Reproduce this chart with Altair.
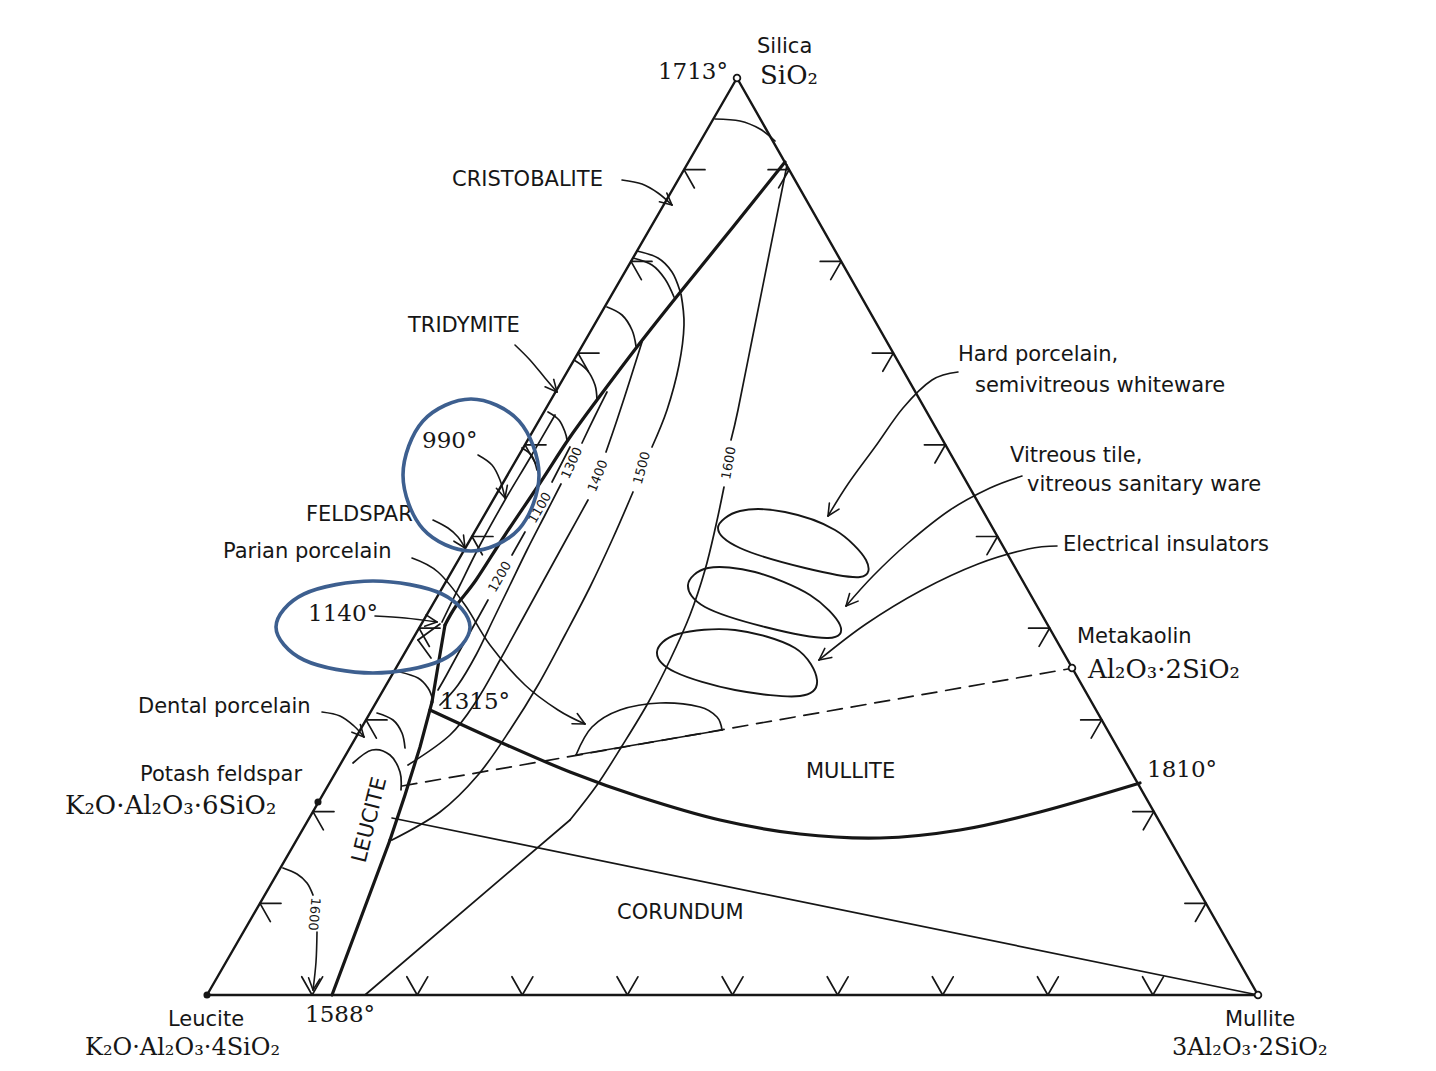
import math
import altair as alt
import pandas as pd

# ---------------- data: positions (page pixels) ----------------
SILICA = (737, 78)
LEUCITE = (207, 995)
MULLITE = (1258, 995)
POTASH_FELDSPAR = (318, 802)
METAKAOLIN = (1072, 668)

TRIANGLE = [SILICA, LEUCITE, MULLITE, SILICA]
TICK_FRACTIONS = [0.1, 0.2, 0.3, 0.4, 0.5, 0.6, 0.7, 0.8, 0.9]

# thick field boundaries
BOUNDARY_SILICA = [(785, 162), (733, 227), (682, 290), (640, 343), (597, 400), (568, 440),
                   (540, 483), (505, 535), (476, 580), (456, 606), (445, 625)]
BOUNDARY_FELDSPAR = [(445, 625), (439, 660), (432, 702)]
BOUNDARY_LEUCITE = [(432, 702), (420, 747), (405, 795), (390, 840)]
BOUNDARY_LEUCITE_LOW = [(390, 840), (332, 995)]
BOUNDARY_MULLITE = [(430, 710), (500, 742), (570, 772), (640, 797), (720, 820), (800, 834),
                    (880, 838), (960, 830), (1040, 812), (1140, 783)]

# thin isotherms / arcs
ARC_TOP = [(715, 119), (740, 121), (760, 129), (775, 141)]
ARC_B1 = [(637, 251), (658, 258), (672, 272), (680, 291)]
ARC_B2 = [(633, 258), (652, 265), (665, 279), (674, 297)]
ARC_C = [(607, 307), (622, 315), (632, 330), (636, 346)]
ARC_D = [(574, 360), (587, 370), (595, 385), (597, 400)]
ARC_E = [(548, 412), (559, 420), (565, 432), (567, 440)]
ARC_F = [(522, 448), (532, 456), (537, 470)]
ARC_G = [(400, 672), (418, 678), (428, 688), (433, 700)]
ARC_H = [(377, 713), (393, 720), (402, 733), (405, 748)]
DENTAL_ARC = [(353, 763), (372, 750), (390, 755), (400, 772), (401, 790)]
FELDSPAR_LINE = [(555, 415), (530, 458), (505, 500), (480, 545), (460, 585), (442, 622)]
EUTECTIC_1140_A = [(440, 624), (418, 640)]
EUTECTIC_1140_B = [(418, 640), (431, 658)]

ISO_1100 = [(570, 447), (552, 482)]
ISO_1200_A = [(525, 532), (512, 555)]
ISO_1200_B = [(488, 600), (473, 627), (459, 652), (446, 676), (438, 690)]
ISO_1300_A = [(607, 392), (594, 418), (582, 443)]
ISO_1300_B = [(561, 484), (545, 515), (527, 550), (510, 585), (493, 620), (476, 655),
              (458, 685), (440, 705)]
ISO_1400_A = [(642, 342), (630, 380), (617, 420), (606, 452)]
ISO_1400_B = [(588, 500), (567, 538), (545, 578), (522, 620), (500, 660), (477, 700),
              (450, 735), (408, 765)]
ISO_1500_A = [(681, 294), (684, 325), (679, 365), (667, 410), (652, 447)]
ISO_1500_B = [(633, 492), (613, 538), (590, 587), (565, 635), (538, 685), (510, 730),
              (478, 775), (440, 812), (392, 840)]
ISO_1600_A = [(787, 165), (768, 260), (752, 340), (738, 410), (731, 440)]
ISO_1600_B = [(724, 487), (716, 525), (705, 570), (690, 615), (670, 660), (648, 703),
              (622, 746), (597, 785), (570, 820)]
ISO_1600_C = [(570, 820), (365, 995)]
ISO_1600_CORNER = [(283, 868), (297, 874), (307, 883), (313, 895)]

JOIN_LEUCITE_MULLITE = [(392, 818), MULLITE]
JOIN_FELDSPAR_METAKAOLIN = [(402, 786), (1068, 669)]

# porcelain composition regions
HARD_PORCELAIN = [(718, 528), (740, 511), (785, 512), (835, 530), (866, 560), (860, 577),
                  (805, 568), (740, 548)]
VITREOUS_TILE = [(688, 585), (708, 568), (755, 572), (810, 595), (840, 625), (828, 638),
                 (765, 627), (705, 607)]
ELECTRICAL = [(657, 652), (678, 634), (735, 630), (795, 648), (817, 680), (800, 696),
              (735, 690), (675, 672)]
PARIAN_ARC = [(576, 755), (592, 727), (620, 710), (660, 703), (700, 707), (717, 717), (722, 730)]
PARIAN_BASE = [(576, 755), (722, 730)]

# annotation ellipses (blue)
BLUE_990 = [(539, 475), (519, 421), (471, 399), (423, 421), (403, 475), (423, 529), (471, 551),
            (519, 529)]
BLUE_1140 = [(470, 627), (442, 594), (373, 581), (304, 594), (276, 627), (304, 660), (373, 673),
             (442, 660)]

# label arrows
ARROW_HARD = [(958, 372), (932, 380), (903, 408), (875, 447), (848, 484), (828, 516)]
ARROW_VITREOUS = [(1022, 476), (990, 488), (950, 510), (908, 543), (873, 576), (846, 606)]
ARROW_ELECTRICAL = [(1057, 546), (1028, 549), (978, 564), (922, 590), (866, 624), (819, 660)]
ARROW_PARIAN = [(412, 558), (438, 572), (465, 605), (490, 645), (525, 685), (558, 710), (585, 724)]
ARROW_FELDSPAR = [(433, 520), (448, 528), (458, 537), (465, 548)]
ARROW_990 = [(478, 455), (492, 465), (500, 480), (505, 498)]
ARROW_1140 = [(375, 616), (405, 618), (437, 622)]
ARROW_DENTAL = [(322, 712), (340, 716), (354, 726), (364, 737)]
ARROW_CRISTOBALITE = [(622, 180), (642, 184), (658, 193), (672, 205)]
ARROW_TRIDYMITE = [(515, 345), (530, 360), (545, 378), (557, 392)]
ARROW_1600 = [(317, 932), (316, 962), (313, 990)]

# texts
SANS_LABELS = [
    (757, 47, "Silica"), (452, 180, "CRISTOBALITE"), (408, 326, "TRIDYMITE"),
    (306, 515, "FELDSPAR"), (223, 552, "Parian porcelain"), (138, 707, "Dental porcelain"),
    (140, 775, "Potash feldspar"), (168, 1020, "Leucite"), (617, 913, "CORUNDUM"),
    (806, 772, "MULLITE"), (1077, 637, "Metakaolin"), (1225, 1020, "Mullite"),
    (958, 355, "Hard porcelain,"), (975, 386, "semivitreous whiteware"),
    (1010, 456, "Vitreous tile,"), (1027, 485, "vitreous sanitary ware"),
    (1063, 545, "Electrical insulators"),
]
SERIF_NUMBERS = [
    (422, 441, "990°"), (308, 614, "1140°"), (440, 702, "1315°"),
    (305, 1015, "1588°"), (1147, 770, "1810°"),
]
SERIF_FORMULAS = [
    (760, 76, "SiO₂"), (65, 806, "K₂O·Al₂O₃·6SiO₂"), (1088, 670, "Al₂O₃·2SiO₂"),
]
SERIF_FORMULAS_BOTTOM = [
    (85, 1048, "K₂O·Al₂O₃·4SiO₂"), (1172, 1048, "3Al₂O₃·2SiO₂"),
]
SERIF_RIGHT_LABELS = [(728, 72, "1713°")]
ROTATED_LABELS = [
    (370, 820, "LEUCITE", 284, 21), (314, 914, "1600", 95, 13), (540, 508, "1100", 300, 13),
    (500, 577, "1200", 300, 13), (572, 463, "1300", 295, 13), (598, 476, "1400", 292, 13),
    (642, 468, "1500", 285, 13), (729, 463, "1600", 280, 13),
]

OPEN_POINTS = [SILICA, MULLITE, METAKAOLIN]
FILLED_POINTS = [LEUCITE, POTASH_FELDSPAR]

# ---------------- chart construction ----------------
XS = alt.Scale(domain=[8, 1428], nice=False, zero=False)
YS = alt.Scale(domain=[8, 1063], nice=False, zero=False, reverse=True)
INK = "#161616"


def xy():
    return dict(x=alt.X("x:Q", scale=XS, axis=None), y=alt.Y("y:Q", scale=YS, axis=None))


def paths_df(paths):
    rows = []
    for pid, pts in enumerate(paths):
        for i, (x, y) in enumerate(pts):
            rows.append({"pid": pid, "i": i, "x": x, "y": y})
    return pd.DataFrame(rows)


def line_layer(paths, width, interp="cardinal", color=INK, dash=None):
    kw = dict(color=color, strokeWidth=width, interpolate=interp, strokeCap="round",
              strokeJoin="round")
    if dash:
        kw["strokeDash"] = dash
    return alt.Chart(paths_df(paths)).mark_line(**kw).encode(
        **xy(), detail="pid:N", order="i:Q")


def seg_layer(segs, width, color=INK):
    df = pd.DataFrame([{"x": a[0], "y": a[1], "x2": b[0], "y2": b[1]} for a, b in segs])
    return alt.Chart(df).mark_rule(color=color, strokeWidth=width, strokeCap="round").encode(
        **xy(), x2="x2:Q", y2="y2:Q")


def text_layer(items, font, size, align="left", angle=None):
    df = pd.DataFrame([{"x": it[0], "y": it[1], "t": it[2]} for it in items])
    kw = dict(font=font, fontSize=size, align=align, baseline="middle", color=INK)
    if angle is not None:
        kw["angle"] = angle
    return alt.Chart(df).mark_text(**kw).encode(**xy(), text="t:N")


def unit(a, b):
    dx, dy = b[0] - a[0], b[1] - a[1]
    n = math.hypot(dx, dy)
    return dx / n, dy / n


def lerp(a, b, f):
    return (a[0] + f * (b[0] - a[0]), a[1] + f * (b[1] - a[1]))


U_BASE = unit(LEUCITE, MULLITE)
U_LEFT = unit(LEUCITE, SILICA)
U_RIGHT = unit(MULLITE, SILICA)
TICK_LEN = 21

tick_segs = []
for f in TICK_FRACTIONS:
    edges = [
        (lerp(SILICA, LEUCITE, f), [U_BASE, (-U_RIGHT[0], -U_RIGHT[1])]),
        (lerp(SILICA, MULLITE, f), [(-U_BASE[0], -U_BASE[1]), (-U_LEFT[0], -U_LEFT[1])]),
        (lerp(LEUCITE, MULLITE, f), [U_RIGHT, U_LEFT]),
    ]
    for p, dirs in edges:
        for d in dirs:
            tick_segs.append((p, (p[0] + TICK_LEN * d[0], p[1] + TICK_LEN * d[1])))

ARROWS = [ARROW_HARD, ARROW_VITREOUS, ARROW_ELECTRICAL, ARROW_PARIAN, ARROW_FELDSPAR,
          ARROW_990, ARROW_1140, ARROW_DENTAL, ARROW_CRISTOBALITE, ARROW_TRIDYMITE, ARROW_1600]
head_segs = []
for pts in ARROWS:
    (qx, qy), (px, py) = pts[-2], pts[-1]
    ux, uy = unit((qx, qy), (px, py))
    for s in (1, -1):
        a = math.radians(26) * s
        bx = -(ux * math.cos(a) - uy * math.sin(a))
        by = -(ux * math.sin(a) + uy * math.cos(a))
        head_segs.append(((px, py), (px + 13 * bx, py + 13 * by)))

layers = [
    line_layer([TRIANGLE], 2.4, interp="linear"),
    line_layer([BOUNDARY_SILICA, BOUNDARY_MULLITE], 3.2),
    line_layer([BOUNDARY_FELDSPAR, BOUNDARY_LEUCITE, BOUNDARY_LEUCITE_LOW], 3.2, interp="linear"),
    line_layer([ARC_TOP, ARC_B1, ARC_B2, ARC_C, ARC_D, ARC_E, ARC_F, ARC_G, ARC_H, DENTAL_ARC,
                FELDSPAR_LINE, ISO_1100, ISO_1200_A, ISO_1200_B, ISO_1300_A, ISO_1300_B,
                ISO_1400_A, ISO_1400_B, ISO_1500_A, ISO_1500_B, ISO_1600_A, ISO_1600_B,
                ISO_1600_CORNER, PARIAN_ARC], 1.7),
    line_layer([ISO_1600_C, JOIN_LEUCITE_MULLITE, PARIAN_BASE, EUTECTIC_1140_A,
                EUTECTIC_1140_B], 1.7, interp="linear"),
    line_layer([JOIN_FELDSPAR_METAKAOLIN], 1.7, interp="linear", dash=[15, 9]),
    line_layer([HARD_PORCELAIN, VITREOUS_TILE, ELECTRICAL], 1.9, interp="cardinal-closed"),
    line_layer(ARROWS, 1.6),
    seg_layer(head_segs, 1.6),
    seg_layer(tick_segs, 1.7),
    alt.Chart(pd.DataFrame([{"x": p[0], "y": p[1]} for p in OPEN_POINTS])).mark_point(
        shape="circle", size=45, filled=True, fill="white", stroke=INK, strokeWidth=1.8,
        opacity=1).encode(**xy()),
    alt.Chart(pd.DataFrame([{"x": p[0], "y": p[1]} for p in FILLED_POINTS])).mark_point(
        shape="circle", size=50, filled=True, color=INK, opacity=1).encode(**xy()),
    text_layer(SANS_LABELS, "DejaVu Sans", 21),
    text_layer(SERIF_NUMBERS, "DejaVu Serif", 23),
    text_layer(SERIF_FORMULAS, "DejaVu Serif", 26),
    text_layer(SERIF_FORMULAS_BOTTOM, "DejaVu Serif", 24),
    text_layer(SERIF_RIGHT_LABELS, "DejaVu Serif", 23, align="right"),
]
for x, y, t, ang, size in ROTATED_LABELS:
    font = "DejaVu Sans"
    layers.append(text_layer([(x, y, t)], font, size, align="center", angle=ang))
layers.append(line_layer([BLUE_990, BLUE_1140], 3.6, interp="cardinal-closed", color="#3d5f8f"))

chart = alt.layer(*layers).properties(
    width=1420, height=1055, autosize=alt.AutoSizeParams(type="none"), padding=0,
    background="white",
).configure_view(stroke=None)

chart.save("out.html", embed_options={"renderer": "svg", "actions": False})
